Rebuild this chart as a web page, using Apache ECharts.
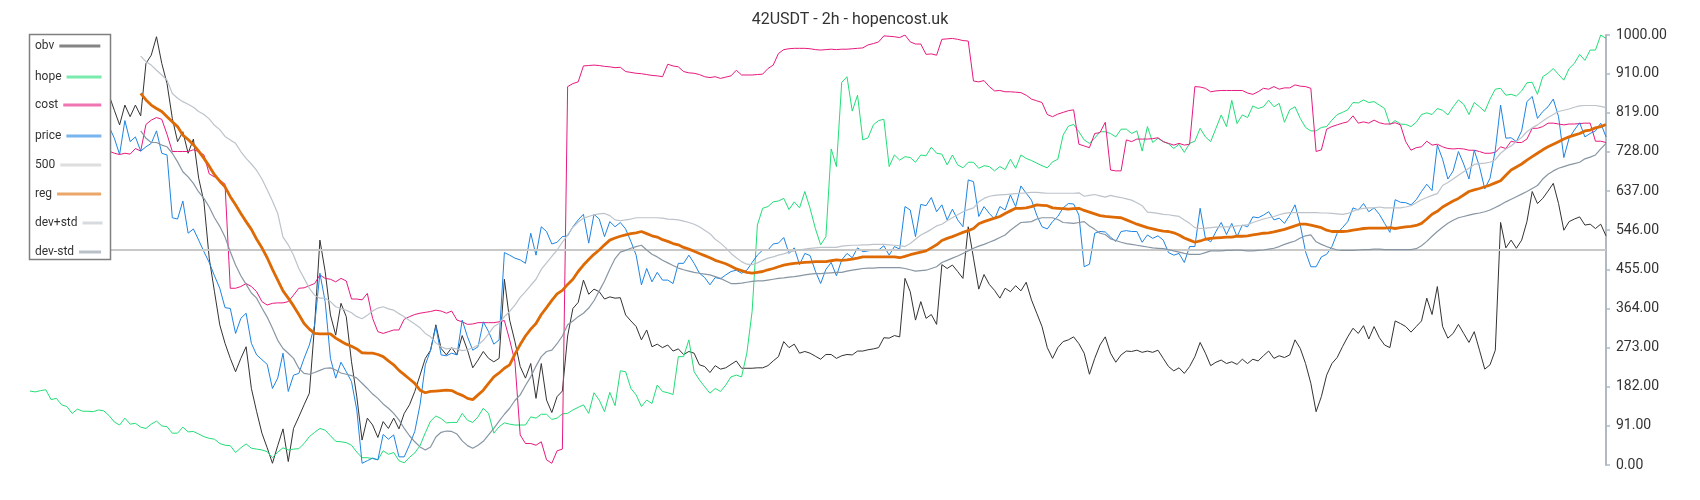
<!DOCTYPE html>
<html><head><meta charset="utf-8">
<script src="https://cdn.jsdelivr.net/npm/echarts@6/dist/echarts.min.js"></script>
<style>html,body{margin:0;padding:0;background:#fff;}#c{width:1700px;height:500px;}</style>
</head><body><div id="c"></div>
<script>
const titleText = '42USDT - 2h - hopencost.uk';
const seriesNames = ['obv','hope','cost','price','500','reg','dev+std','dev-std'];
const yMin = 0, yMax = 1000, yStep = 91;

const obv = [
830,800,845,815,850,820,790,835,805,850,
815,790,840,810,850,860,825,791,837,810,
837,812,934,953,996,934,887,806,752,775,
725,758,667,612,481,403,326,283,248,217,
248,275,178,124,74,40,4,45,84,8,
85,112,140,167,326,523,450,349,302,376,
345,240,159,58,109,93,64,101,85,109,
84,120,140,171,209,248,267,326,271,256,
273,256,301,267,226,244,264,248,240,248,
432,337,287,229,202,236,155,236,151,122,
159,172,300,364,378,430,397,409,403,386,
391,388,389,349,335,322,291,314,275,281,
273,279,265,270,257,264,260,233,229,215,
231,223,226,234,242,225,225,225,226,226,
231,242,252,287,273,281,260,264,260,253,
246,257,257,248,254,257,256,265,265,268,
270,273,296,295,301,298,434,403,337,380,
341,350,327,466,457,465,450,434,554,481,
409,443,420,406,388,411,403,417,405,425,
384,353,322,273,248,273,287,291,298,282,
260,211,248,279,298,260,239,256,265,264,
267,262,265,262,267,248,229,219,226,213,
229,252,285,260,231,239,244,236,240,234,
246,236,246,242,254,265,248,254,250,256,
291,271,236,190,124,159,209,236,250,275,
298,318,306,324,293,322,296,279,273,335,
329,322,309,322,335,388,350,415,322,295,
306,327,306,285,310,267,223,233,267,564,
505,523,504,523,566,636,608,620,637,655,
608,546,566,572,577,558,560,550,560,533];

const hope = [
172,170,173,175,152,155,140,136,120,130,
125,125,124,128,126,115,100,93,109,95,
97,88,85,95,102,91,89,74,74,88,
77,78,72,66,62,60,50,46,45,29,
40,49,39,37,35,31,17,30,40,35,
37,38,50,66,76,85,81,68,55,54,
52,46,30,17,17,15,12,33,25,29,
10,5,18,28,45,75,102,114,108,98,
99,99,120,104,99,112,132,120,74,89,
98,95,93,93,93,112,109,118,118,106,
109,119,120,128,134,140,120,168,151,124,
169,138,219,217,178,163,136,151,143,186,
171,168,164,252,252,291,217,198,182,167,
178,171,186,205,209,205,260,357,558,597,
601,612,614,620,594,612,598,636,597,550,
512,531,735,694,890,903,823,860,756,761,
791,801,804,694,721,709,717,715,704,721,
719,739,725,723,698,721,698,691,704,704,
690,696,694,684,694,687,711,690,721,713,
708,702,696,691,705,711,767,788,792,775,
756,748,760,775,775,771,763,781,781,771,
777,730,787,750,760,752,747,736,746,727,
748,753,783,763,752,783,814,787,848,794,
814,808,835,829,833,848,833,841,797,826,
833,806,785,777,777,785,787,802,815,820,
826,843,842,849,843,845,837,829,792,801,
793,792,787,797,815,819,815,829,825,814,
833,849,839,815,843,833,822,851,874,876,
860,862,858,870,889,890,862,903,911,922,
908,895,922,934,955,941,965,965,1000,992];

const cost = [
730,728,725,728,730,727,725,724,726,728,
726,724,726,728,727,730,725,722,725,723,
736,730,792,802,808,804,769,729,729,729,
729,733,729,721,677,670,663,653,411,411,
415,422,415,403,380,372,376,377,377,380,
395,411,412,417,422,442,434,432,426,434,
428,386,386,384,399,341,310,306,310,314,
314,339,345,350,353,355,357,360,358,353,
358,337,333,327,328,331,331,331,331,333,
336,291,240,70,50,50,46,54,12,4,
33,37,880,887,891,928,929,930,929,927,
926,924,925,915,913,911,910,908,906,905,
903,932,928,926,915,912,911,908,903,901,
903,899,902,905,918,907,907,907,908,909,
922,930,957,966,968,969,969,969,968,966,
965,966,967,966,967,967,968,969,970,977,
980,984,998,997,996,994,1000,984,979,979,
955,956,953,990,991,992,990,987,986,893,
891,894,880,870,871,868,868,867,866,860,
851,847,843,815,810,816,820,824,826,746,
742,738,771,773,797,686,684,684,756,752,
758,758,758,759,761,752,748,744,748,744,
746,880,879,876,868,870,871,871,871,871,
871,865,862,868,876,874,880,874,877,877,
884,881,880,876,729,733,781,787,791,795,
798,812,795,798,795,802,796,793,793,796,
791,752,732,738,740,753,744,746,740,736,
735,736,735,732,732,729,725,725,727,740,
736,753,750,750,758,783,783,787,795,795,
793,791,793,793,794,795,795,753,753,750];

const price = [
770,760,780,765,790,775,760,785,770,790,
772,760,780,765,790,787,760,722,801,752,
763,730,740,748,777,725,721,575,572,614,
539,549,523,496,471,440,411,366,364,306,
341,353,283,256,245,234,178,202,260,171,
209,213,248,279,326,446,380,248,202,239,
217,194,128,4,10,16,12,71,60,70,
19,19,47,78,140,233,267,322,256,254,
260,256,337,298,267,275,333,310,281,291,
494,488,481,477,469,539,488,554,543,514,
518,531,533,554,570,583,516,583,572,531,
566,554,564,549,520,488,419,457,426,448,
430,430,422,469,469,488,469,446,436,419,
436,433,442,450,453,446,453,471,488,500,
500,514,516,529,492,505,466,492,487,451,
422,455,471,440,477,492,482,505,496,498,
500,500,510,488,508,502,601,593,531,606,
603,622,589,605,570,595,570,554,663,659,
578,601,585,572,601,593,628,601,649,632,
616,581,554,549,566,578,598,608,607,581,
461,467,539,543,542,530,520,543,545,543,
543,518,535,527,533,523,494,488,492,471,
508,508,597,527,519,543,564,536,562,531,
558,554,577,575,581,589,570,574,562,581,
605,558,496,461,461,484,490,508,539,552,
566,598,593,608,589,598,583,562,541,617,
611,610,605,617,636,653,638,744,711,665,
684,729,700,665,732,694,642,667,732,837,
760,761,752,777,845,857,806,822,833,851,
810,715,760,779,796,763,771,777,795,763];

const line500 = [[0, 500], [299, 500]];

const regStart = 21;
const reg = [
864,849,837,829,822,810,798,787,767,757,
745,730,713,695,675,660,647,624,605,585,
566,548,525,505,482,455,430,405,388,370,
350,329,316,306,305,305,305,295,288,281,
276,270,261,260,260,257,252,242,233,220,
210,200,190,174,168,171,172,173,174,173,
167,162,155,152,163,174,190,205,214,225,
233,258,280,300,316,329,350,366,383,398,
406,420,432,450,465,478,490,500,512,523,
528,532,535,538,540,543,538,533,530,524,
520,515,512,506,502,497,492,487,482,476,
472,468,462,456,452,448,446,448,450,454,
457,461,465,467,469,470,471,472,473,473,
473,475,477,476,477,479,481,484,484,484,
484,484,484,484,482,485,489,492,495,498,
505,512,522,527,531,536,541,545,550,561,
566,570,574,578,585,591,597,597,598,601,
605,604,603,598,597,596,595,596,597,592,
588,584,580,578,577,576,575,570,565,560,
556,552,549,546,544,543,540,535,528,523,
518,521,525,527,528,529,530,530,532,532,
533,535,537,539,540,542,545,548,552,556,
560,560,558,555,552,546,543,543,543,544,
546,548,550,551,551,551,551,552,550,552,
554,555,557,562,572,583,590,600,607,614,
620,628,636,640,643,647,651,656,661,674,
686,693,700,709,717,725,733,740,746,752,
758,763,767,771,777,779,784,787,792];

const devPlus = [
951,938,930,918,907,895,864,853,845,839,
832,822,815,805,790,780,764,756,748,729,
713,700,685,665,640,614,585,530,512,488,
457,434,411,395,388,388,380,368,364,360,
354,345,340,348,358,365,368,363,360,352,
345,336,328,319,306,298,284,275,270,272,
270,266,268,272,279,290,305,322,329,345,
357,372,390,403,418,432,455,470,485,500,
518,535,553,565,574,578,582,584,585,580,
570,568,570,572,575,575,575,575,575,574,
572,571,570,567,564,560,554,546,538,525,
516,505,492,482,473,467,466,470,476,481,
484,488,491,495,498,500,502,504,505,506,
506,506,506,509,510,511,511,512,512,513,
513,513,512,511,510,508,515,525,535,541,
548,556,560,568,575,582,589,594,598,612,
620,625,627,628,629,630,631,632,633,634,
634,633,632,632,632,632,632,632,633,625,
627,629,626,623,627,624,622,619,616,610,
603,588,587,585,583,582,580,578,570,562,
552,550,551,552,553,554,554,554,556,557,
559,564,568,572,575,578,582,585,587,587,
587,587,587,587,586,586,585,584,583,585,
590,595,597,598,598,600,598,598,598,598,
600,603,610,617,622,627,631,650,657,665,
674,682,690,699,701,702,704,710,725,735,
742,752,762,775,784,791,800,808,815,822,
825,828,832,835,836,836,836,834,831];

const devMinus = [
777,760,750,750,744,740,725,705,682,670,
655,635,620,600,575,555,530,496,465,440,
420,400,388,365,344,318,290,271,260,248,
225,213,211,215,220,225,226,221,214,211,
208,202,190,178,165,155,142,132,120,105,
85,68,54,42,35,42,65,76,79,78,
72,56,45,39,46,55,70,85,102,118,
132,150,163,185,205,230,252,264,267,282,
300,326,335,345,353,365,382,405,428,455,
480,495,499,504,508,511,500,490,484,476,
470,464,458,454,451,448,446,444,442,438,
434,428,422,422,423,425,427,428,428,430,
432,434,435,437,438,440,442,444,445,445,
446,447,448,448,451,453,455,457,458,458,
459,459,459,459,459,457,454,451,452,453,
457,461,471,476,481,486,492,498,504,509,
513,518,523,529,535,546,555,564,565,566,
572,575,575,575,571,564,563,562,564,566,
556,548,539,536,526,522,518,515,513,511,
509,507,505,504,503,501,498,495,492,490,
490,490,494,498,498,498,499,499,500,499,
498,498,499,500,502,504,508,513,517,521,
528,533,535,519,513,508,504,500,499,499,
499,500,501,501,502,502,501,501,501,501,
501,501,503,510,520,532,543,553,562,569,
575,578,581,584,586,589,593,599,605,612,
618,624,630,636,643,650,665,676,684,690,
694,698,701,704,712,716,721,735,748];

const categories = obv.map((_, i) => String(i));
const pad = (arr) => new Array(regStart).fill(null).concat(arr);

const colors = {
  'obv': '#333333', 'hope': '#22dd77', 'cost': '#e6197f', 'price': '#1e84e2',
  '500': '#c8c8c8', 'reg': '#de6a06', 'dev+std': '#bcc3ca', 'dev-std': '#8896a3'
};
const widths = { 'obv': 1, 'hope': 1, 'cost': 1, 'price': 1, '500': 2, 'reg': 2.8, 'dev+std': 1.2, 'dev-std': 1.2 };
const seriesData = {
  'obv': obv, 'hope': hope, 'cost': cost, 'price': price, '500': line500,
  'reg': pad(reg), 'dev+std': pad(devPlus), 'dev-std': pad(devMinus)
};

const legendLayout = [
  ['obv', 45, 41], ['hope', 76, 35], ['cost', 104, 38], ['price', 135, 35],
  ['500', 164, 41], ['reg', 193, 44], ['dev+std', 222, 20], ['dev-std', 251, 22]
];

const FONT = 'Roboto, "Noto Sans", sans-serif';

const option = {
  animation: false,
  backgroundColor: '#ffffff',
  title: {
    text: titleText, left: 'center', top: 7,
    textStyle: { fontSize: 16, fontWeight: 'normal', color: '#333', fontFamily: FONT }
  },
  graphic: {
    elements: [{
      type: 'rect', zlevel: 1, z: 0,
      shape: { x: 29.5, y: 34.5, width: 81, height: 225 },
      style: { fill: '#ffffff', stroke: '#808080', lineWidth: 1.5 }
    }]
  },
  legend: legendLayout.map(([name, cy, w]) => ({
    data: [name], left: 35, top: cy - 5, padding: 0, zlevel: 1, z: 5,
    icon: 'rect', itemWidth: w, itemHeight: 3, align: 'right',
    selectedMode: false,
    itemStyle: { opacity: 0.6 },
    textStyle: { fontSize: 12, color: '#333', fontFamily: FONT }
  })),
  grid: { left: 30, right: 94, top: 35, bottom: 35, containLabel: false, outerBoundsMode: 'none' },
  xAxis: { type: 'category', data: categories, boundaryGap: false, show: false },
  yAxis: {
    type: 'value', position: 'right', min: yMin, max: yMax, interval: yStep,
    splitLine: { show: false },
    axisLine: { show: true, lineStyle: { color: '#b1bac3', width: 2 } },
    axisTick: { show: true, length: 4, lineStyle: { color: '#b1bac3', width: 1.5 } },
    axisLabel: { margin: 10, fontSize: 14, color: '#333', fontFamily: FONT,
      formatter: (v) => v.toFixed(2) }
  },
  series: seriesNames.map((name) => ({
    name, type: 'line', data: seriesData[name], symbol: 'none', showSymbol: false,
    color: colors[name], silent: true,
    lineStyle: { color: colors[name], width: widths[name] },
    emphasis: { disabled: true }
  }))
};

const chart = echarts.init(document.getElementById('c'), null, { renderer: 'canvas' });
chart.setOption(option);
</script></body></html>
